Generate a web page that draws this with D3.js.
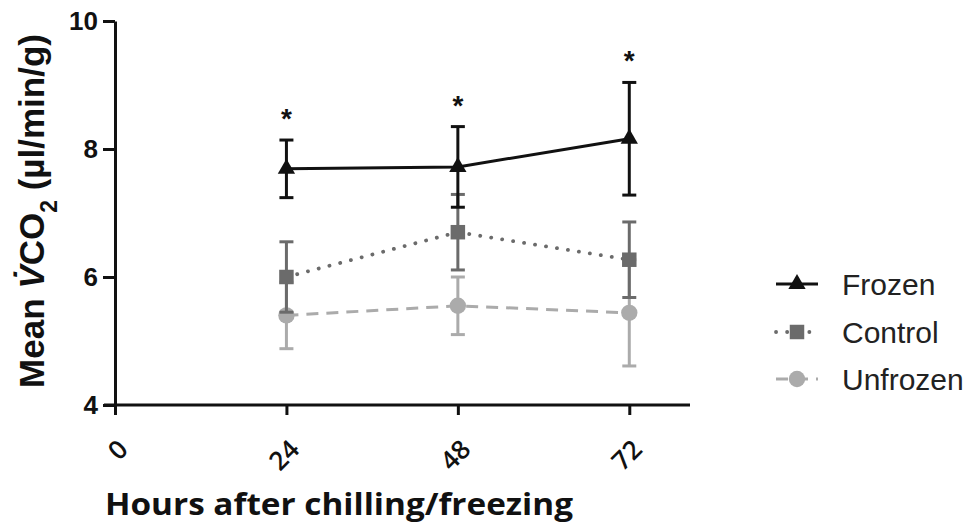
<!DOCTYPE html>
<html>
<head>
<meta charset="utf-8">
<script src="https://cdn.jsdelivr.net/npm/d3@7"></script>
<style>
  body { margin: 0; background: #fff; }
  svg { display: block; }
</style>
</head>
<body>
<svg id="chart"></svg>
<script>
// values (mean +/- error)
const hours = [24, 48, 72];
const xTicks = [0, 24, 48, 72];
const yTicks = [4, 6, 8, 10];

const frozenMean = [7.69, 7.72, 8.16];
const frozenErr = [0.45, 0.63, 0.88];
const controlMean = [6.0, 6.70, 6.27];
const controlErr = [0.55, 0.59, 0.59];
const unfrozenMean = [5.40, 5.55, 5.44];
const unfrozenErr = [0.52, 0.45, 0.83];
const starred = [true, true, true];

const seriesNames = ['Frozen', 'Control', 'Unfrozen'];

const W = 973, H = 527;
const svg = d3.select('#chart').attr('width', W).attr('height', H);

const x = d3.scaleLinear().domain([0, 80.5]).range([115, 690]);
const y = d3.scaleLinear().domain([4, 10]).range([405, 21]);

const series = [
    {name: seriesNames[2], mean: unfrozenMean, err: unfrozenErr, color: '#ababab', dash: '12,8', cap: 'butt', width: 3, sym: d3.symbolCircle, size: 210},
    {name: seriesNames[1], mean: controlMean, err: controlErr, color: '#6b6b6b', dash: '0.1,11', cap: 'round', width: 3.8, sym: d3.symbolSquare, size: 210},
    {name: seriesNames[0], mean: frozenMean, err: frozenErr, color: '#111', dash: null, cap: 'butt', width: 3, sym: d3.symbolTriangle, size: 130}
];

// axes
const yAxis = svg.append('g')
    .attr('transform', `translate(${x(0)},0)`)
    .call(d3.axisLeft(y).tickValues(yTicks).tickFormat(d3.format('d'))
        .tickSize(12).tickSizeOuter(0).tickPadding(5));
yAxis.selectAll('path, line').attr('stroke', '#111').attr('stroke-width', 3);
yAxis.selectAll('text')
    .attr('fill', '#111')
    .style('font-family', 'Liberation Sans, Arial, sans-serif')
    .style('font-weight', 'bold')
    .style('font-size', '26px');

const xAxis = svg.append('g')
    .attr('transform', `translate(0,${y(4)})`)
    .call(d3.axisBottom(x).tickValues(xTicks).tickFormat(d3.format('d')).tickSize(10).tickSizeOuter(0));
xAxis.select('.domain').attr('d', `M${x(0) - 11},0H${x.range()[1]}`);
xAxis.selectAll('path, line').attr('stroke', '#111').attr('stroke-width', 3);
xAxis.selectAll('text')
    .attr('fill', '#111')
    .attr('y', 0).attr('dy', 0)
    .attr('text-anchor', 'end')
    .attr('transform', 'translate(14,46) rotate(-45)')
    .style('font-family', 'Open Sans, sans-serif')
    .style('font-weight', 600)
    .style('font-size', '26px');

// axis titles
svg.append('text')
    .attr('x', 105).attr('y', 515)
    .attr('textLength', 468)
    .attr('lengthAdjust', 'spacingAndGlyphs')
    .style('font-family', 'Open Sans, sans-serif')
    .style('font-weight', 'bold')
    .style('font-size', '30px')
    .attr('fill', '#111')
    .text('Hours after chilling/freezing');

const yTitle = svg.append('text')
    .attr('transform', `translate(44,211) rotate(-90)`)
    .attr('text-anchor', 'middle')
    .style('font-family', 'Liberation Sans, Arial, sans-serif')
    .style('font-weight', 'bold')
    .style('font-size', '35px')
    .attr('fill', '#111');
yTitle.append('tspan').text('Mean ');
yTitle.append('tspan').style('font-style', 'italic').text('V\u0307');
yTitle.append('tspan').text('CO');
yTitle.append('tspan').attr('baseline-shift', 'sub').style('font-size', '23px').text('2');
yTitle.append('tspan').text(' (\u00b5l/min/g)');

// series
const line = d3.line().x(d => x(d[0])).y(d => y(d[1]));

series.forEach(s => {
    const pts = hours.map((h, i) => [h, s.mean[i], s.err[i]]);
    const g = svg.append('g');

    g.selectAll('line.err')
        .data(pts)
        .join('line')
            .attr('x1', d => x(d[0])).attr('x2', d => x(d[0]))
            .attr('y1', d => y(d[1] - d[2])).attr('y2', d => y(d[1] + d[2]))
            .attr('stroke', s.color).attr('stroke-width', 3);
    [-1, 1].forEach(sign => {
        g.selectAll(null)
            .data(pts)
            .join('line')
                .attr('x1', d => x(d[0]) - 7).attr('x2', d => x(d[0]) + 7)
                .attr('y1', d => y(d[1] + sign * d[2])).attr('y2', d => y(d[1] + sign * d[2]))
                .attr('stroke', s.color).attr('stroke-width', 3);
    });

    g.append('path')
        .datum(pts)
        .attr('d', line)
        .attr('fill', 'none')
        .attr('stroke', s.color)
        .attr('stroke-width', s.width)
        .attr('stroke-linecap', s.cap)
        .attr('stroke-dasharray', s.dash);

    g.selectAll('path.mk')
        .data(pts)
        .join('path')
            .attr('class', 'mk')
            .attr('transform', d => `translate(${x(d[0])},${y(d[1])})`)
            .attr('d', d3.symbol().type(s.sym).size(s.size))
            .attr('fill', s.color);
});

// significance stars
svg.selectAll('text.star')
    .data(hours.filter((h, i) => starred[i]))
    .join('text')
        .attr('class', 'star')
        .attr('x', h => x(h))
        .attr('y', (h, i) => y(frozenMean[i] + frozenErr[i]) - 12)
        .attr('text-anchor', 'middle')
        .style('font-family', 'Liberation Sans, Arial, sans-serif')
        .style('font-weight', 'bold')
        .style('font-size', '28px')
        .attr('fill', '#111')
        .text('*');

// legend
const legendY = [284, 332, 379];
const legendOrder = [2, 1, 0];
legendOrder.forEach((si, row) => {
    const s = series[si];
    const g = svg.append('g').attr('transform', `translate(0,${legendY[row]})`);
    g.append('line')
        .attr('x1', 776).attr('x2', 818)
        .attr('stroke', s.color)
        .attr('stroke-width', s.width)
        .attr('stroke-linecap', s.cap)
        .attr('stroke-dasharray', s.dash);
    g.append('path')
        .attr('transform', 'translate(797,0)')
        .attr('d', d3.symbol().type(s.sym).size(s.size))
        .attr('fill', s.color);
    g.append('text')
        .attr('x', 842).attr('dy', '0.35em')
        .style('font-family', 'Liberation Sans, Arial, sans-serif')
        .style('font-size', '30px')
        .attr('fill', '#222')
        .text(s.name);
});
</script>
</body>
</html>
